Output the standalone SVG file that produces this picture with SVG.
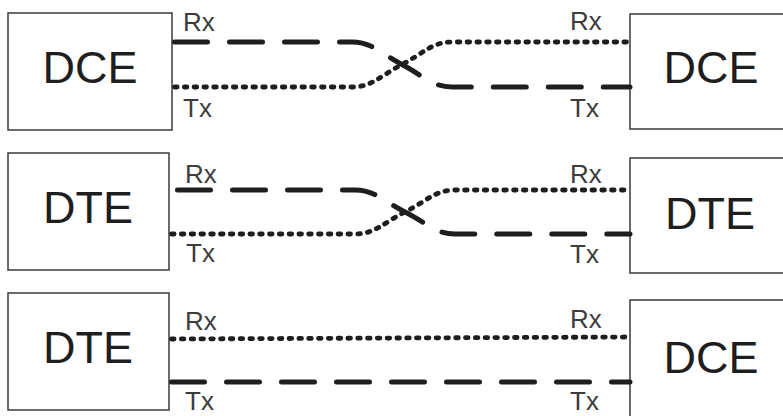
<svg xmlns="http://www.w3.org/2000/svg" width="783" height="416" viewBox="0 0 783 416">
  <style>
    .box { fill: #fff; stroke: #3a3a3a; stroke-width: 1.5; }
    .name { font-family: "Liberation Sans", Arial, sans-serif; font-size: 45px; fill: #1e1e1e; text-anchor: middle; }
    .pin { font-family: "Liberation Sans", Arial, sans-serif; font-size: 26px; fill: #3c3c3c; }
    .dash { fill: none; stroke: #1e1e1e; stroke-width: 5; stroke-linecap: round; stroke-dasharray: 33 22; }
    .dot { fill: none; stroke: #1e1e1e; stroke-width: 4.8; stroke-linecap: round; stroke-dasharray: 2.6 7.2; }
  </style>

  <!-- Row 1: DCE to DCE, crossed -->
  <g id="dce-left-1">
    <rect class="box" x="8" y="13" width="164" height="117"/>
    <text class="name" x="90" y="83">DCE</text>
  </g>
  <g id="dce-right-1">
    <rect class="box" x="630" y="14" width="160" height="115"/>
    <text class="name" x="711" y="83">DCE</text>
  </g>

  <!-- Row 2: DTE to DTE, crossed -->
  <g id="dte-left-2">
    <rect class="box" x="8" y="153" width="161" height="117"/>
    <text class="name" x="88" y="223">DTE</text>
  </g>
  <g id="dte-right-2">
    <rect class="box" x="630" y="158" width="160" height="115"/>
    <text class="name" x="710" y="229">DTE</text>
  </g>

  <!-- Row 3: DTE to DCE, straight -->
  <g id="dte-left-3">
    <rect class="box" x="8" y="293" width="161" height="117"/>
    <text class="name" x="88" y="363">DTE</text>
  </g>
  <g id="dce-right-3">
    <rect class="box" x="630" y="300" width="160" height="130"/>
    <text class="name" x="711" y="373">DCE</text>
  </g>

  <!-- signal lines -->
  <g id="connectors">
    <!-- row 1 -->
    <path class="dash" d="M174.5,42 H352 C372,42 380,53 402,64.5 C424,76 432,87 452,87 H630"/>
    <path class="dot" d="M174.5,87 H352 C372,87 380,76 402,64.5 C424,53 432,42 452,42 H628"/>
    <!-- row 2 -->
    <path class="dash" d="M177.5,190 H355 C375,190 383,201 405,212 C427,223 435,234 455,234 H630"/>
    <path class="dot" d="M171.5,234 H355 C375,234 383,223 405,212 C427,201 435,190 455,190 H628"/>
    <!-- row 3 -->
    <path class="dot" d="M171.5,339 L628,337"/>
    <path class="dash" d="M171.5,382 H630"/>
  </g>

  <!-- pin labels -->
  <g id="labels">
    <text class="pin" x="183" y="31">Rx</text>
    <text class="pin" x="183" y="117">Tx</text>
    <text class="pin" x="570" y="30">Rx</text>
    <text class="pin" x="570" y="117">Tx</text>

    <text class="pin" x="185" y="183">Rx</text>
    <text class="pin" x="186" y="262">Tx</text>
    <text class="pin" x="570" y="183">Rx</text>
    <text class="pin" x="570" y="263">Tx</text>

    <text class="pin" x="185" y="330">Rx</text>
    <text class="pin" x="185" y="410">Tx</text>
    <text class="pin" x="570" y="328">Rx</text>
    <text class="pin" x="570" y="410">Tx</text>
  </g>
</svg>
